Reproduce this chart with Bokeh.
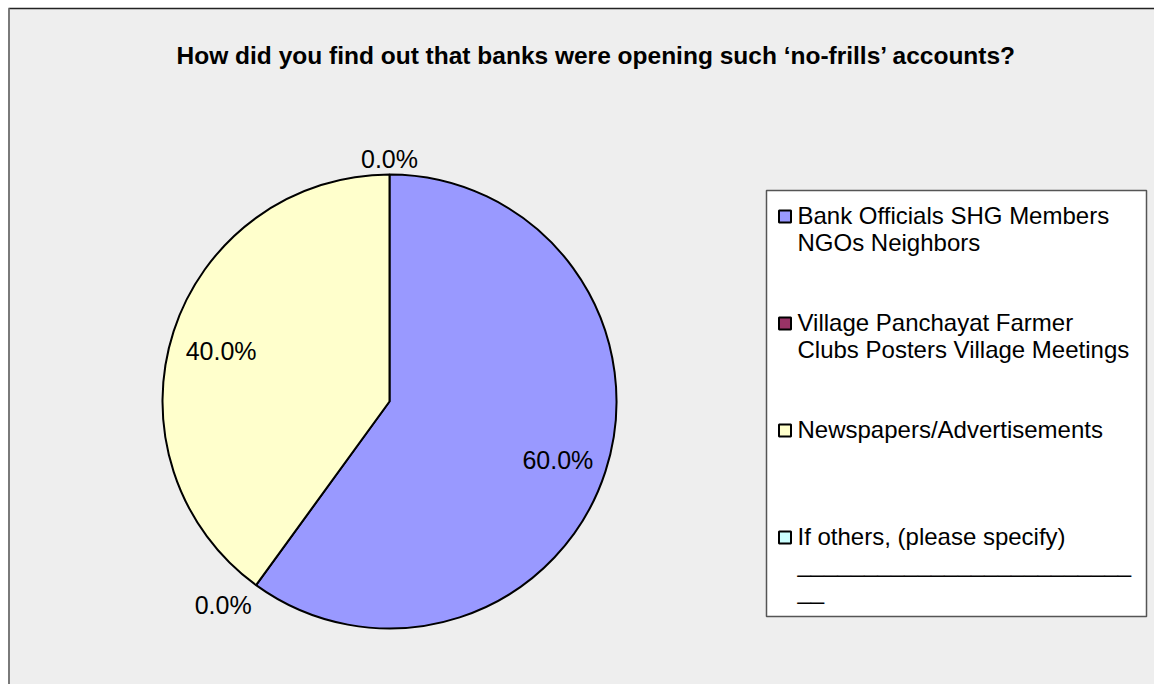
import math
from bokeh.plotting import figure
from bokeh.models import ColumnDataSource, Range1d
from bokeh.core.properties import value
from bokeh.embed import file_html
from bokeh.resources import INLINE

# ---- data ----
title_text = "How did you find out that banks were opening such \u2018no-frills\u2019 accounts?"
categories = [
    " Bank Officials SHG Members\nNGOs Neighbors",
    "Village Panchayat Farmer\nClubs Posters Village Meetings",
    "Newspapers/Advertisements",
    " If others, (please specify)\n" + "_" * 25 + "\n__",
]
shares = [60.0, 0.0, 40.0, 0.0]
colors = ["#9999FF", "#993366", "#FFFFCC", "#CCFFFF"]

W, H = 1154, 684
FONT = "Liberation Sans"

p = figure(width=W, height=H, x_range=Range1d(0, W), y_range=Range1d(0, H),
           x_axis_type=None, y_axis_type=None, toolbar_location=None,
           output_backend="svg", min_border=0)
p.grid.visible = False
p.outline_line_color = None
p.background_fill_color = "white"
p.border_fill_color = "white"

def Y(y):
    return H - y

# chart area background and border
p.quad(left=8, right=W, bottom=0, top=Y(8), fill_color="#EEEEEE", line_color=None)
p.segment(x0=8, y0=Y(8), x1=W, y1=Y(8), line_color="#222222", line_width=1.5)
p.segment(x0=8.5, y0=Y(8), x1=8.5, y1=0, line_color="#7a7a7a", line_width=2)

# title
p.text(x=[596], y=[Y(55)], text=[title_text], text_font=value(FONT),
       text_font_style="bold", text_font_size="24.5px", text_align="center",
       text_baseline="middle", text_color="black")

# pie
cx, cy, r = 389, Y(401), 227
total = sum(shares)
cum = 0.0
starts, ends, cols, lx, ly, labels = [], [], [], [], [], []
for v, c in zip(shares, colors):
    f0 = cum / total
    f1 = (cum + v) / total
    cum += v
    a0 = math.pi / 2 - 2 * math.pi * f0
    a1 = math.pi / 2 - 2 * math.pi * f1
    if v > 0:
        starts.append(a0); ends.append(a1); cols.append(c)
        am = (a0 + a1) / 2
        lx.append(cx + 0.78 * r * math.cos(am))
        ly.append(cy + 0.78 * r * math.sin(am) - 4)
    else:
        am = a0
        lx.append(cx + (r + 20) * math.cos(am) + 36 * math.cos(am))
        ly.append(cy + (r + 20) * math.sin(am) - 4)
    labels.append("%.1f%%" % (100.0 * v / total))

src = ColumnDataSource(dict(start=starts, end=ends, color=cols))
p.wedge(x=cx, y=cy, radius=r, radius_units="screen", start_angle="start",
        end_angle="end", direction="clock", fill_color="color",
        line_color="black", line_width=2, source=src)

p.text(x=lx, y=ly, text=labels, text_font=value(FONT), text_font_size="25px",
       text_align="center", text_baseline="middle", text_color="black")

# legend box
p.quad(left=766, right=1146, top=Y(190), bottom=Y(616), fill_color="white",
       line_color="#555555", line_width=1.5)

leg_y = [Y(216 + i * 107) for i in range(len(categories))]
p.rect(x=[784.5] * 4, y=leg_y, width=12, height=12, width_units="screen",
       height_units="screen", fill_color=colors, line_color="black", line_width=2)
p.text(x=[797] * 4, y=[y + 15 for y in leg_y], text=categories,
       text_font=value(FONT), text_font_size="24px", text_align="left",
       text_baseline="top", text_line_height=1.0, text_color="black")

open("out.html", "w").write(file_html(p, INLINE))
